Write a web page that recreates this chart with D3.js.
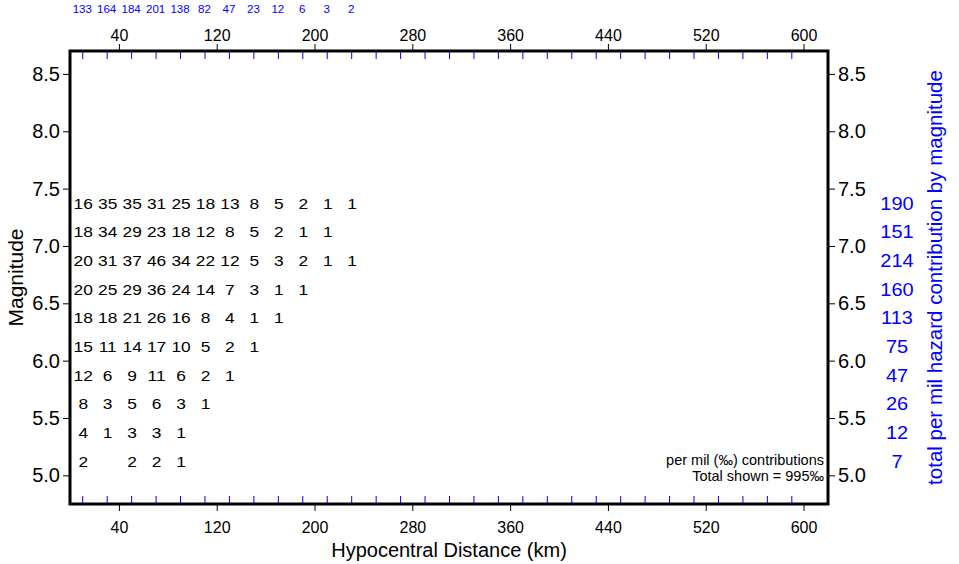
<!DOCTYPE html>
<html>
<head>
<meta charset="utf-8">
<script src="https://cdn.jsdelivr.net/npm/d3@7"></script>
<style>
  body { margin: 0; background: #fff; }
  svg text { font-family: "Liberation Sans", Arial, Helvetica, sans-serif; }
</style>
</head>
<body>
<svg id="chart" width="959" height="564"></svg>
<script>
// distance bin centres (km) and magnitude bin centres
const distBins = [10, 30, 50, 70, 90, 110, 130, 150, 170, 190, 210, 230];
const magBins = [7.375, 7.125, 6.875, 6.625, 6.375, 6.125, 5.875, 5.625, 5.375, 5.125];

// per mil contributions, one row per magnitude bin (null = blank cell)
const cells = [
  [16, 35, 35, 31, 25, 18, 13, 8, 5, 2, 1, 1],
  [18, 34, 29, 23, 18, 12, 8, 5, 2, 1, 1],
  [20, 31, 37, 46, 34, 22, 12, 5, 3, 2, 1, 1],
  [20, 25, 29, 36, 24, 14, 7, 3, 1, 1],
  [18, 18, 21, 26, 16, 8, 4, 1, 1],
  [15, 11, 14, 17, 10, 5, 2, 1],
  [12, 6, 9, 11, 6, 2, 1],
  [8, 3, 5, 6, 3, 1],
  [4, 1, 3, 3, 1],
  [2, null, 2, 2, 1]
];
const distTotals = [133, 164, 184, 201, 138, 82, 47, 23, 12, 6, 3, 2];
const magTotals = [190, 151, 214, 160, 113, 75, 47, 26, 12, 7];

const xTicks = [40, 120, 200, 280, 360, 440, 520, 600];
const yTicks = [5.0, 5.5, 6.0, 6.5, 7.0, 7.5, 8.0, 8.5];
const minorTicks = d3.range(10, 600, 20);

const pLeft = 70, pRight = 828, pTop = 51, pBottom = 504;
const blue = "#0000ff";

const svg = d3.select("#chart");

const x = d3.scaleLinear().domain([0, 620]).range([pLeft, pRight]);
const y = d3.scaleLinear().domain([4.75, 8.7]).range([pBottom, pTop]);

// black major ticks, outside the frame
const xb = svg.append("g")
  .attr("transform", "translate(0," + pBottom + ")")
  .call(d3.axisBottom(x).tickValues(xTicks).tickSize(7).tickSizeOuter(0).tickPadding(11));
const xt = svg.append("g")
  .attr("transform", "translate(0," + pTop + ")")
  .call(d3.axisTop(x).tickValues(xTicks).tickSize(7).tickSizeOuter(0).tickPadding(3));
const yl = svg.append("g")
  .attr("transform", "translate(" + pLeft + ",0)")
  .call(d3.axisLeft(y).tickValues(yTicks).tickFormat(d3.format(".1f")).tickSize(7).tickSizeOuter(0).tickPadding(3));
const yr = svg.append("g")
  .attr("transform", "translate(" + pRight + ",0)")
  .call(d3.axisRight(y).tickValues(yTicks).tickFormat(d3.format(".1f")).tickSize(7).tickSizeOuter(0).tickPadding(3));

[xb, xt, yl, yr].forEach(g => {
  g.attr("font-family", null);
  g.select(".domain").remove();
  g.selectAll("text").attr("fill", "#000");
});
xb.selectAll("text").style("font-size", "16px");
xt.selectAll("text").style("font-size", "16px");
yl.selectAll("text").style("font-size", "20px");
yr.selectAll("text").style("font-size", "20px");

// blue minor ticks, inside the frame
const mb = svg.append("g")
  .attr("transform", "translate(0," + pBottom + ")")
  .call(d3.axisTop(x).tickValues(minorTicks).tickSize(8).tickFormat(""));
const mt = svg.append("g")
  .attr("transform", "translate(0," + pTop + ")")
  .call(d3.axisBottom(x).tickValues(minorTicks).tickSize(8).tickFormat(""));
[mb, mt].forEach(g => {
  g.select(".domain").remove();
  g.selectAll("line").attr("stroke", blue);
});

// frame
svg.append("rect")
  .attr("x", pLeft).attr("y", pTop)
  .attr("width", pRight - pLeft).attr("height", pBottom - pTop)
  .attr("fill", "none").attr("stroke", "#000").attr("stroke-width", 3);

// cell values (the original glyphs are a little wide, hence the x stretch)
magBins.forEach((m, i) => {
  svg.append("g").selectAll("text")
    .data(cells[i].map((v, j) => ({ v: v, d: distBins[j] })).filter(c => c.v != null))
    .enter()
    .append("text")
    .attr("transform", c => "translate(" + (x(c.d) + 1) + "," + y(m) + ") scale(1.12,1)")
    .attr("dy", "0.36em")
    .attr("text-anchor", "middle")
    .style("font-size", "15.5px")
    .text(c => c.v);
});

// totals by distance (top, blue)
svg.append("g").selectAll("text")
  .data(distTotals)
  .enter()
  .append("text")
  .attr("x", (d, i) => x(distBins[i]))
  .attr("y", 13)
  .attr("text-anchor", "middle")
  .attr("fill", blue)
  .style("font-size", "11.5px")
  .text(d => d);

// totals by magnitude (right, blue)
svg.append("g").selectAll("text")
  .data(magTotals)
  .enter()
  .append("text")
  .attr("transform", (d, i) => "translate(897," + y(magBins[i]) + ") scale(1.08,1)")
  .attr("dy", "0.36em")
  .attr("text-anchor", "middle")
  .attr("fill", blue)
  .style("font-size", "18.5px")
  .text(d => d);

// axis titles
svg.append("text")
  .attr("x", (pLeft + pRight) / 2).attr("y", 557)
  .attr("text-anchor", "middle")
  .style("font-size", "20px")
  .text("Hypocentral Distance (km)");

svg.append("text")
  .attr("transform", "translate(23," + (pTop + pBottom) / 2 + ") rotate(-90)")
  .attr("text-anchor", "middle")
  .style("font-size", "21px")
  .text("Magnitude");

svg.append("text")
  .attr("transform", "translate(942," + (pTop + pBottom) / 2 + ") rotate(-90)")
  .attr("text-anchor", "middle")
  .attr("fill", blue)
  .style("font-size", "20.5px")
  .text("total per mil hazard contribution by magnitude");

// note
svg.append("text")
  .attr("x", 824).attr("y", 465)
  .attr("text-anchor", "end")
  .style("font-size", "14.5px")
  .text("per mil (\u2030) contributions");
svg.append("text")
  .attr("x", 824).attr("y", 481)
  .attr("text-anchor", "end")
  .style("font-size", "14.5px")
  .text("Total shown = 995\u2030");
</script>
</body>
</html>
